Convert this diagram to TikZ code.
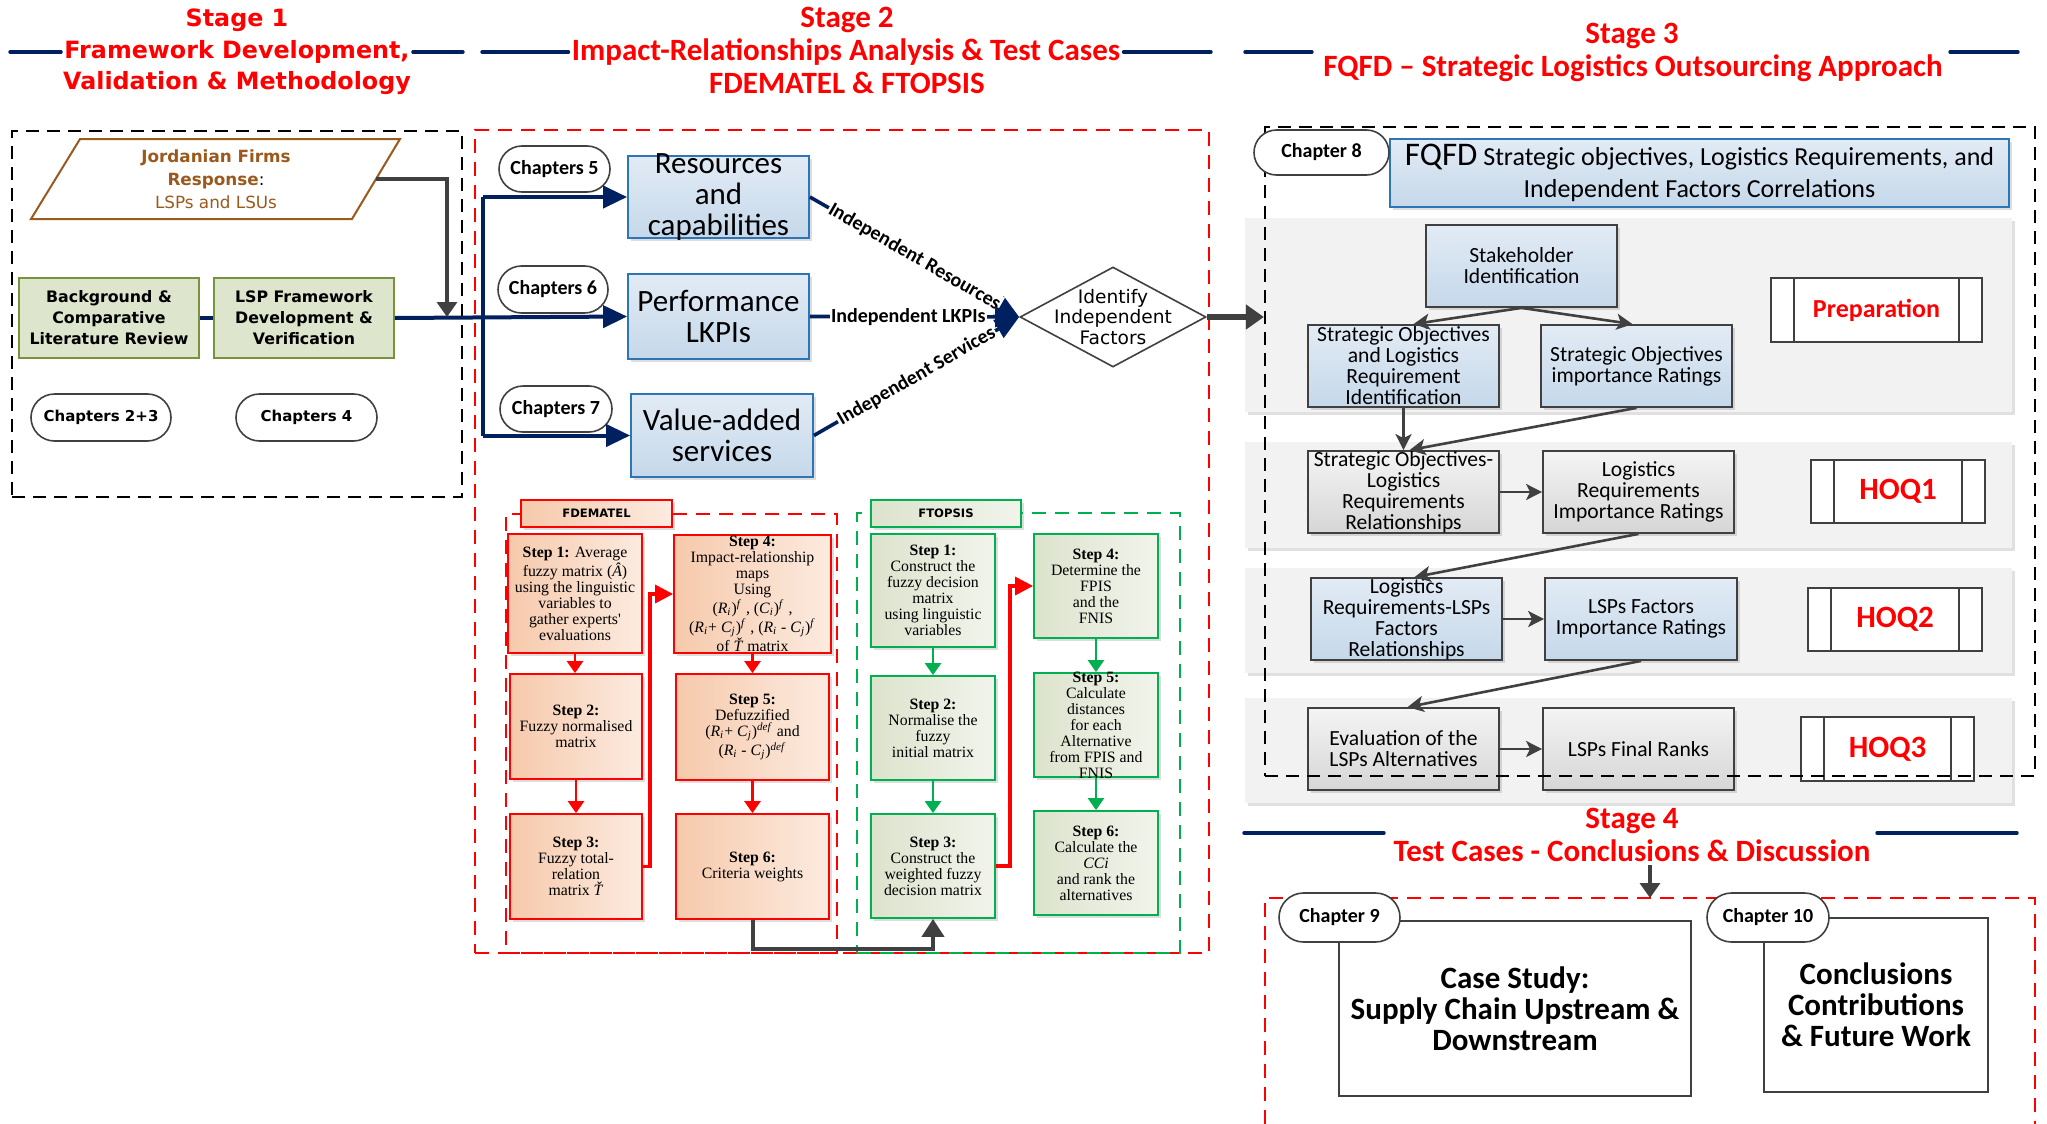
\documentclass[tikz,border=0pt]{standalone}
\usepackage{fontspec}
\setmainfont{Carlito}
\newfontfamily\dvs{DejaVu Sans}
\newfontfamily\tms{Liberation Serif}
\usetikzlibrary{arrows.meta,shapes.geometric,shapes.misc,shadows,calc}

\definecolor{navyc}{HTML}{002060}
\definecolor{dgray}{HTML}{404040}
\definecolor{stred}{HTML}{FF0000}
\definecolor{stgreen}{HTML}{00B050}
\definecolor{brn}{HTML}{9A5A1E}
\definecolor{gfill}{HTML}{DDE5CD}
\definecolor{gborder}{HTML}{77933C}
\definecolor{btop}{HTML}{E2EBF5}
\definecolor{bbot}{HTML}{C5D8EA}
\definecolor{bblue}{HTML}{2E75B6}
\definecolor{gtop}{HTML}{F4F4F4}
\definecolor{gbot}{HTML}{D6D6D6}
\definecolor{pleft}{HTML}{F6C9AB}
\definecolor{pright}{HTML}{FCEBE0}
\definecolor{vleft}{HTML}{DCE3CC}
\definecolor{vright}{HTML}{F2F4EC}
\definecolor{bandc}{HTML}{F2F2F2}

% italic symbol with italic index, and italic exponent
\newcommand\isub[2]{\textit{#1}\textsubscript{\textit{#2}}}
\newcommand\isup[1]{\textsuperscript{\textit{#1}}}

% box from corner (x1,y1) to (x2,y2), with its text in a separate centred node
\newcommand\mkbox[8]{%
  \pgfmathsetmacro\bcx{(#3+#5)/2}%
  \pgfmathsetmacro\bcy{(#4+#6)/2}%
  \pgfmathsetmacro\bw{abs(#5-#3)/2}%
  \pgfmathsetmacro\bh{abs(#6-#4)/2}%
  \node[#2,minimum width=\bw pt,minimum height=\bh pt,inner sep=0pt] (#1) at (\bcx,\bcy) {};%
  \node[align=center,inner sep=0pt,#7] (#1-t) at (#1.center) {#8};%
}

\begin{document}
\begin{tikzpicture}[x=0.5pt,y=-0.5pt,
  shd/.style={drop shadow={shadow xshift=1.5pt,shadow yshift=-1.5pt,opacity=0.22,fill=black!60}},
  s1title/.style={text=stred,inner sep=1.5pt,font=\dvs\bfseries\fontsize{11.9}{14}\selectfont},
  s2title/.style={text=stred,inner sep=1.5pt,font=\bfseries\fontsize{15.5}{18}\selectfont},
  titlerule/.style={navyc,line width=1.7pt,line cap=round},
  dframe/.style={draw=black,dash pattern=on 6.5pt off 4pt,line width=1.1pt},
  rframe/.style={draw=stred,dash pattern=on 7pt off 4.5pt,line width=1pt},
  gframe/.style={draw=stgreen,dash pattern=on 7pt off 4.5pt,line width=1pt},
  pill/.style={rounded rectangle,draw=dgray,line width=0.8pt,fill=white},
  pilltxt/.style={font=\bfseries\fontsize{10}{12}\selectfont},
  pilltxtA/.style={font=\dvs\bfseries\fontsize{7.5}{9}\selectfont},
  para/.style={draw=brn,line width=1pt,fill=white},
  jtxt/.style={text=brn,align=center,inner sep=0pt,font=\dvs\fontsize{8.4}{11.5}\selectfont},
  gbox/.style={draw=gborder,fill=gfill,line width=0.9pt},
  gtxt/.style={font=\dvs\bfseries\fontsize{7.9}{10.5}\selectfont},
  bboxA/.style={draw=bblue,line width=0.9pt,top color=btop,bottom color=bbot,shd},
  bboxB/.style={draw=dgray,line width=0.9pt,top color=btop,bottom color=bbot,shd},
  grbox/.style={draw=dgray,line width=0.9pt,top color=gtop,bottom color=gbot,shd},
  bigtxt/.style={font=\fontsize{15.5}{15.5}\selectfont},
  s3txt/.style={font=\fontsize{10.8}{10.5}\selectfont},
  fqtxt/.style={font=\fontsize{13}{16}\selectfont},
  dstep/.style={draw=stred,line width=0.9pt,left color=pleft,right color=pright,shd},
  tstep/.style={draw=stgreen,line width=0.9pt,left color=vleft,right color=vright,shd},
  steptxt/.style={font=\tms\fontsize{7.9}{8}\selectfont},
  labtxt/.style={font=\dvs\bfseries\fontsize{5.8}{7}\selectfont},
  diam/.style={diamond,draw=dgray,line width=0.8pt,fill=white},
  diamtxt/.style={font=\dvs\fontsize{9.3}{10.3}\selectfont},
  band/.style={fill=bandc,drop shadow={shadow xshift=1.5pt,shadow yshift=-1.5pt,opacity=0.12,fill=black}},
  hoq/.style={draw=dgray,fill=white,line width=0.8pt,
    path picture={\draw[dgray,line width=0.8pt]
      ([xshift=11.5pt]path picture bounding box.north west) -- ([xshift=11.5pt]path picture bounding box.south west)
      ([xshift=-11.5pt]path picture bounding box.north east) -- ([xshift=-11.5pt]path picture bounding box.south east);}},
  hoqtxt/.style={text=stred,font=\bfseries\fontsize{15.5}{18}\selectfont},
  preptxt/.style={text=stred,font=\bfseries\fontsize{13}{15}\selectfont},
  wbox/.style={draw=dgray,line width=0.9pt,fill=white},
  s4txt/.style={font=\bfseries\fontsize{15.5}{15.5}\selectfont},
  navyline/.style={navyc,line width=2pt},
  navyarr/.style={navyline,-{Triangle[length=12pt,width=11pt]}},
  navyconn/.style={navyc,line width=1.8pt,-{Triangle[length=12pt,width=10pt]}},
  lbl/.style={fill=white,inner sep=0.6pt,text=black,font=\bfseries\fontsize{10}{12}\selectfont},
  garrA/.style={dgray,line width=1.7pt,-{Triangle[length=7.5pt,width=10pt]}},
  garrB/.style={dgray,line width=2.6pt,-{Triangle[length=9pt,width=12pt]}},
  redarr/.style={stred,line width=1.3pt,-{Triangle[length=6pt,width=8pt]}},
  grnarr/.style={stgreen,line width=1.3pt,-{Triangle[length=6pt,width=8pt]}},
  redconn/.style={stred,line width=1.7pt,-{Triangle[length=9pt,width=9pt]}},
  grayconn/.style={dgray,line width=2pt,-{Triangle[length=9pt,width=11pt]}},
  s3arr/.style={dgray,line width=1.3pt,-{Stealth[length=8pt,width=8pt,inset=2pt]}}
]
\useasboundingbox (0,0) rectangle (2047,1124);
\fill[white] (0,0) rectangle (2047,1124);

% ---------------- titles ----------------
\node[s1title] (s1a) at (237,20) {Stage 1};
\node[s1title] (s1b) at (237,52) {Framework Development,};
\node[s1title] (s1c) at (237,83) {Validation \& Methodology};
\draw[titlerule] (10,52) -- (s1b.west);
\draw[titlerule] (s1b.east) -- (463,52);

\node[s2title] (s2a) at (847,20) {Stage 2};
\node[s2title] (s2b) at (846,52) {Impact-Relationships Analysis \& Test Cases};
\node[s2title] (s2c) at (847,83) {FDEMATEL \& FTOPSIS};
\draw[titlerule] (482,52) -- (s2b.west);
\draw[titlerule] (s2b.east) -- (1211,52);

\node[s2title] (s3a) at (1632,36) {Stage 3};
\node[s2title] (s3b) at (1633,68) {FQFD -- Strategic Logistics Outsourcing Approach};
\draw[titlerule] (1245,52) -- (1312,52);
\draw[titlerule] (1950,52) -- (2018,52);

\node[s2title] (s4a) at (1632,821) {Stage 4};
\node[s2title] (s4b) at (1632,851) {Test Cases - Conclusions \& Discussion};
\draw[titlerule] (1244,833) -- (1384,833);
\draw[titlerule] (1877,833) -- (2017,833);

% ---------------- stage 1 ----------------
\mkbox{fr1}{dframe}{12}{131}{462}{497}{}{}
\coordinate (pa) at (80,139);
\coordinate (pb) at (400,139);
\coordinate (pc) at (352,219);
\coordinate (pd) at (31,219);
\draw[para] (pa) -- (pb) -- (pc) -- (pd) -- cycle;
\node[jtxt] (jf) at (216,179) {\textbf{Jordanian Firms}\\\textbf{Response}\textcolor{black}{:}\\LSPs and LSUs};
\coordinate (jfr) at ($(pb)!0.5!(pc)$);
\mkbox{bg}{gbox}{19}{278}{199}{358}{gtxt}{Background \&\\Comparative\\Literature Review}
\mkbox{lsp}{gbox}{214}{278}{394}{358}{gtxt}{LSP Framework\\Development \&\\Verification}
\mkbox{ch23}{pill}{31}{394}{171}{441}{pilltxtA}{Chapters 2+3}
\mkbox{ch4}{pill}{236}{394}{377}{441}{pilltxtA}{Chapters 4}

% ---------------- stage 2 ----------------
\mkbox{fr2}{rframe}{475}{130}{1209}{953}{}{}
\mkbox{fd}{rframe}{506}{514}{837}{953}{}{}
\mkbox{ft}{gframe}{857}{513}{1180}{953}{}{}

\mkbox{ch5}{pill}{499}{146}{610}{192}{pilltxt}{Chapters 5}
\mkbox{ch6}{pill}{498}{266}{608}{313}{pilltxt}{Chapters 6}
\mkbox{ch7}{pill}{500}{386}{612}{432}{pilltxt}{Chapters 7}

\mkbox{res}{bboxA}{628}{156}{809}{238}{bigtxt}{Resources\\and\\capabilities}
\mkbox{perf}{bboxA}{628}{274}{809}{359}{bigtxt}{Performance\\LKPIs}
\mkbox{val}{bboxA}{631}{394}{813}{477}{bigtxt}{Value-added\\services}

\mkbox{idf}{diam}{1020}{267}{1206}{367}{diamtxt}{Identify\\Independent\\Factors}

% bus from stage 1 into the three analyses
\coordinate (busx) at (483,317);
\draw[navyline] (bg.east) -- (lsp.west);
\draw[navyarr] (lsp.east) -- (perf.west);
\draw[navyline] (busx |- res.west) -- (busx |- val.west);
\draw[navyarr] (busx |- res.west) -- (res.west);
\draw[navyarr] (busx |- val.west) -- (val.west);
\coordinate (jbus) at (447,317);
\draw[garrA] (jfr) -| (jbus);

\draw[navyconn] (res.east) -- node[lbl,sloped,pos=0.5] {Independent Resources} (idf.west);
\draw[navyconn] (perf.east) -- node[lbl,pos=0.47] {Independent LKPIs} (idf.west);
\draw[navyconn] (val.east) -- node[lbl,sloped,pos=0.5] {Independent Services} (idf.west);

% FDEMATEL
\mkbox{fdl}{dstep}{521}{500}{672}{527}{labtxt}{FDEMATEL}
\mkbox{d1}{dstep}{508}{534}{642}{653}{steptxt}{\textbf{Step 1:} Average\\fuzzy matrix (\textit{Â})\\using the linguistic\\variables to\\gather experts'\\evaluations}
\mkbox{d2}{dstep}{510}{674}{642}{779}{steptxt}{\textbf{Step 2:}\\Fuzzy normalised\\matrix}
\mkbox{d3}{dstep}{510}{814}{642}{919}{steptxt}{\textbf{Step 3:}\\Fuzzy total-\\relation\\matrix \textit{Ť}}
\mkbox{d4}{dstep}{674}{535}{831}{653}{steptxt}{\textbf{Step 4:}\\Impact-relationship\\maps\\Using\\(\isub{R}{i})\isup{f} , (\isub{C}{i})\isup{f} ,\\(\isub{R}{i}+ \isub{C}{j})\isup{f} , (\isub{R}{i} - \isub{C}{j})\isup{f}\\of \textit{Ť} matrix}
\mkbox{d5}{dstep}{676}{674}{829}{780}{steptxt}{\textbf{Step 5:}\\Defuzzified\\(\isub{R}{i}+ \isub{C}{j})\isup{def} and\\(\isub{R}{i} - \isub{C}{j})\isup{def}}
\mkbox{d6}{dstep}{676}{814}{829}{919}{steptxt}{\textbf{Step 6:}\\Criteria weights}
\draw[redarr] (d1.south) -- (d1.south |- d2.north);
\draw[redarr] (d2.south) -- (d2.south |- d3.north);
\draw[redarr] (d4.south) -- (d4.south |- d5.north);
\draw[redarr] (d5.south) -- (d5.south |- d6.north);
\draw[redconn] (d3.east) -- ++(7,0) |- (d4.west);

% FTOPSIS
\mkbox{ftl}{tstep}{871}{500}{1021}{527}{labtxt}{FTOPSIS}
\mkbox{t1}{tstep}{871}{534}{995}{647}{steptxt}{\textbf{Step 1:}\\Construct the\\fuzzy decision\\matrix\\using linguistic\\variables}
\mkbox{t2}{tstep}{871}{676}{995}{780}{steptxt}{\textbf{Step 2:}\\Normalise the\\fuzzy\\initial matrix}
\mkbox{t3}{tstep}{871}{814}{995}{918}{steptxt}{\textbf{Step 3:}\\Construct the\\weighted fuzzy\\decision matrix}
\mkbox{t4}{tstep}{1034}{534}{1158}{638}{steptxt}{\textbf{Step 4:}\\Determine the\\FPIS\\and the\\FNIS}
\mkbox{t5}{tstep}{1034}{673}{1158}{777}{steptxt}{\textbf{Step 5:}\\Calculate\\distances\\for each\\Alternative\\from FPIS and\\FNIS}
\mkbox{t6}{tstep}{1034}{811}{1158}{915}{steptxt}{\textbf{Step 6:}\\Calculate the\\\textit{CCi}\\and rank the\\alternatives}
\draw[grnarr] (t1.south) -- (t1.south |- t2.north);
\draw[grnarr] (t2.south) -- (t2.south |- t3.north);
\draw[grnarr] (t4.south) -- (t4.south |- t5.north);
\draw[grnarr] (t5.south) -- (t5.south |- t6.north);
\draw[redconn] (t3.east) -- ++(14,0) |- (t4.west);
\draw[grayconn] (d6.south) -- ++(0,29) -| (t3.south);

% ---------------- stage 3 ----------------
\mkbox{b0}{band}{1245}{218}{2012}{412}{}{}
\mkbox{b1}{band}{1245}{442}{2012}{548}{}{}
\mkbox{b2}{band}{1245}{568}{2012}{673}{}{}
\mkbox{b3}{band}{1245}{698}{2012}{803}{}{}

\mkbox{fq}{bboxA}{1390}{139}{2009}{207}{fqtxt}{{\fontsize{16.5}{16}\selectfont FQFD} Strategic objectives, Logistics Requirements, and\\Independent Factors Correlations}

\mkbox{sh}{bboxB}{1426}{225}{1617}{307}{s3txt}{Stakeholder\\Identification}
\mkbox{so1}{bboxB}{1308}{325}{1499}{407}{s3txt}{Strategic Objectives\\and Logistics\\Requirement\\Identification}
\mkbox{so2}{bboxB}{1541}{325}{1732}{407}{s3txt}{Strategic Objectives\\importance Ratings}
\mkbox{prep}{hoq}{1771}{278}{1982}{342}{preptxt}{Preparation}

\mkbox{r1}{grbox}{1308}{451}{1499}{533}{s3txt}{Strategic Objectives-\\Logistics\\Requirements\\Relationships}
\mkbox{r2}{grbox}{1543}{451}{1734}{533}{s3txt}{Logistics\\Requirements\\Importance Ratings}
\mkbox{hq1}{hoq}{1811}{460}{1985}{523}{hoqtxt}{HOQ1}

\mkbox{q1}{bboxB}{1311}{578}{1502}{660}{s3txt}{Logistics\\Requirements-LSPs\\Factors\\Relationships}
\mkbox{q2}{bboxB}{1545}{578}{1737}{660}{s3txt}{LSPs Factors\\Importance Ratings}
\mkbox{hq2}{hoq}{1808}{588}{1982}{651}{hoqtxt}{HOQ2}

\mkbox{e1}{grbox}{1308}{708}{1499}{790}{s3txt}{Evaluation of the\\LSPs Alternatives}
\mkbox{e2}{grbox}{1543}{708}{1734}{790}{s3txt}{LSPs Final Ranks}
\mkbox{hq3}{hoq}{1801}{717}{1974}{781}{hoqtxt}{HOQ3}

\draw[s3arr] (sh.south) -- ([xshift=5pt]so1.north);
\draw[s3arr] (sh.south) -- ([xshift=-2pt]so2.north);
\draw[s3arr] (so1.south) -- (so1.south |- r1.north);
\draw[s3arr] (so2.south) -- ([xshift=3pt]r1.north);
\draw[s3arr] (r1.east) -- (r2.west);
\draw[s3arr] (r2.south) -- ([xshift=4pt]q1.north);
\draw[s3arr] (q1.east) -- (q2.west);
\draw[s3arr] (q2.south) -- ([xshift=2pt]e1.north);
\draw[s3arr] (e1.east) -- (e2.west);

\mkbox{fr3}{dframe}{1265}{127}{2035}{776}{}{}
\mkbox{ch8}{pill}{1254}{130}{1389}{175}{pilltxt}{Chapter 8}

\draw[garrB] (idf.east) -- (idf.east -| fr3.west);

% ---------------- stage 4 ----------------
\coordinate (f4a) at (1265,1124);
\coordinate (f4b) at (1265,898);
\coordinate (f4c) at (2035,898);
\coordinate (f4d) at (2035,1124);
\draw[rframe] (f4a) -- (f4b) -- (f4c) -- (f4d);
\coordinate (f4in) at (1650,898);
\draw[garrA] (s4b.south -| f4in) -- (f4in);

\mkbox{cs}{wbox}{1339}{921}{1691}{1096}{s4txt}{Case Study:\\Supply Chain Upstream \&\\Downstream}
\mkbox{cc}{wbox}{1764}{918}{1988}{1092}{s4txt}{Conclusions\\Contributions\\\& Future Work}
\mkbox{ch9}{pill}{1279}{893}{1400}{942}{pilltxt}{Chapter 9}
\mkbox{ch10}{pill}{1707}{893}{1829}{942}{pilltxt}{Chapter 10}

\end{tikzpicture}
\end{document}
